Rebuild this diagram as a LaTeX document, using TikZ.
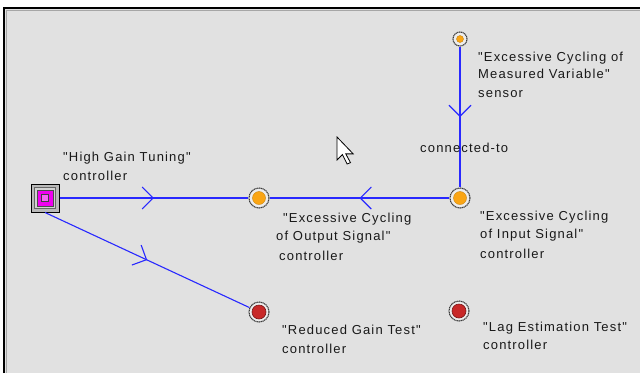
\documentclass[tikz,border=0pt]{standalone}
\usepackage{fontspec}
\newfontfamily\lblfont[LetterSpace=9]{Liberation Sans}
\usetikzlibrary{arrows.meta,decorations.markings}
\definecolor{bggray}{RGB}{225,225,225}
\definecolor{lineblue}{RGB}{40,40,255}
\definecolor{ringgray}{RGB}{60,60,60}
\definecolor{orangefill}{RGB}{250,165,20}
\definecolor{redfill}{RGB}{200,40,40}
\definecolor{mag}{RGB}{240,0,240}
\tikzset{
  lbl/.style={anchor=base west, inner sep=0pt, font=\lblfont\fontsize{13}{15}\selectfont, text=black!90},
  ring/.style={circle, minimum size=20pt, inner sep=0pt, draw=ringgray, line width=1.1pt, dash pattern=on 1.2pt off 0.6pt, fill=bggray!60!white},
  smallring/.style={ring, minimum size=14pt},
  orangedot/.style={circle, minimum size=13pt, inner sep=0pt, fill=orangefill, draw=orangefill!80!black, line width=0.4pt},
  smalldot/.style={orangedot, minimum size=7pt},
  reddot/.style={circle, minimum size=14pt, inner sep=0pt, fill=redfill, draw=redfill!60!black, line width=0.6pt},
  edge/.style={draw=lineblue, line width=1.1pt,
    postaction={decorate, decoration={markings,
      mark=at position 0.5 with {\arrow[lineblue, line width=1.1pt]{Straight Barb[length=11pt,width=22pt]}}}}},
}
\begin{document}
\begin{tikzpicture}[x=1pt,y=-1pt]
\useasboundingbox (0,0) rectangle (640,373);
\fill[white] (0,0) rectangle (640,373);
\fill[bggray] (4,8) rectangle (640,373);
\draw[black, line width=2pt] (4,373) -- (4,8) -- (640,8);
\draw[gray!70, line width=0.8pt] (6,373) -- (6,10) -- (640,10);

% square node
\node[minimum size=28pt, inner sep=0pt, draw=black, line width=1pt, fill=gray!55] (hgt) at (45,198) {};
\node[minimum size=21pt, inner sep=0pt, draw=gray!80!black, line width=0.8pt, fill=gray!35] (hgtmid) at (45,198) {};
\node[minimum size=16pt, inner sep=0pt, fill=mag, draw=gray!60!black, line width=0.6pt] (hgtin) at (45,198) {};
\node[minimum size=7pt, inner sep=0pt, fill=mag!60!white, draw=gray!50!black, line width=0.6pt] (hgtcore) at (45,198) {};

% circle nodes
\node[smallring] (sens) at (460,39) {};
\node[smalldot] (sensdot) at (460,39) {};
\node[ring] (inp) at (460,198) {};
\node[orangedot] (inpdot) at (460,198) {};
\node[ring] (outp) at (259,198) {};
\node[orangedot] (outdot) at (259,198) {};
\node[ring] (red1) at (259,312) {};
\node[reddot] (red1dot) at (259,312) {};
\node[ring] (red2) at (459,311) {};
\node[reddot] (red2dot) at (459,311) {};

% connectors
\path[edge] (hgt.east) -- (outp);
\path[edge] (inp) -- (outp);
\path[edge] (sens) -- (inp);
\path[edge] (hgt.south) -- (red1);

% labels
\node[lbl] (hg1) at (63,161) {"High Gain Tuning"};
\node[lbl] (hg2) at (63,180) {controller};
\node[lbl] (s1) at (478,61) {"Excessive Cycling of};
\node[lbl] (s2) at (478,78) {Measured Variable"};
\node[lbl] (s3) at (478,97) {sensor};
\node[lbl] (conn) at (420,152) {connected-to};
\node[lbl] (o1) at (283,222) {"Excessive Cycling};
\node[lbl] (o2) at (276,240) {of Output Signal"};
\node[lbl] (o3) at (279,260) {controller};
\node[lbl] (i1) at (480,220) {"Excessive Cycling};
\node[lbl] (i2) at (480,238) {of Input Signal"};
\node[lbl] (i3) at (480,258) {controller};
\node[lbl] (r1) at (282,334) {"Reduced Gain Test"};
\node[lbl] (r2) at (282,353) {controller};
\node[lbl] (l1) at (483,331) {"Lag Estimation Test"};
\node[lbl] (l2) at (483,349) {controller};

% mouse cursor
\begin{scope}[shift={(337,137)}, scale=1.35]
\draw[fill=white, line width=0.8pt, line join=miter]
  (0,0) -- (0,17) -- (4,13) -- (7.5,20) -- (10,19) -- (6.5,12.5) -- (12,12.5) -- cycle;
\end{scope}
\end{tikzpicture}
\end{document}
